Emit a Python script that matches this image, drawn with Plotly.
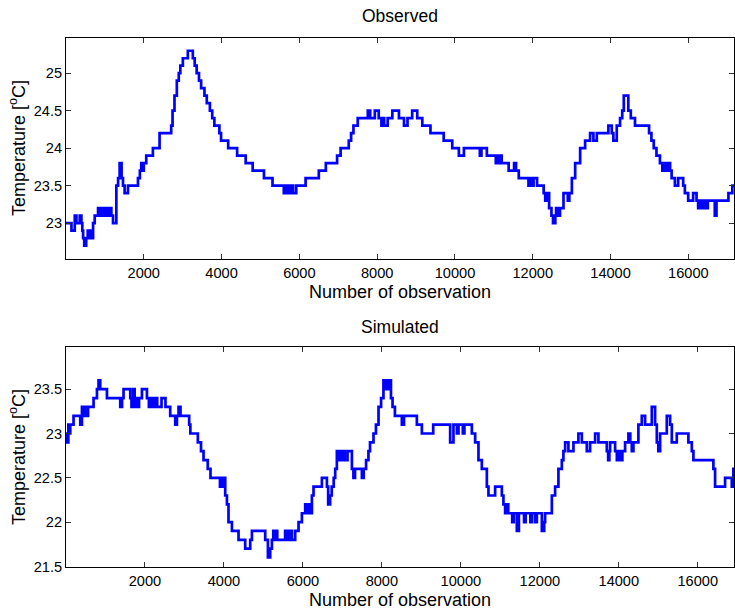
import plotly.graph_objects as go

# ---------------- data (step breakpoints) ----------------
obs_x = [1, 141, 226, 269, 354, 397, 420, 441, 470, 520, 560, 590, 630, 660, 697, 739, 825, 860, 900, 940,
         980, 1020, 1060, 1100, 1140, 1167, 1210, 1295, 1340, 1380, 1430, 1466, 1508, 1594, 1851, 1900,
         1936, 1970, 2000, 2064, 2235, 2406, 2705, 2740, 2790, 2850, 2900, 2940, 3005, 3133, 3261, 3310,
         3360, 3420, 3474, 3560, 3620, 3700, 3760, 3815, 3944, 3987, 4170, 4400, 4620, 4800, 5090, 5310,
         5600, 5640, 5680, 5720, 5760, 5800, 5840, 5920, 6160, 6500, 6680, 6970, 7060, 7270, 7330, 7390,
         7500, 7760, 7820, 7940, 8040, 8110, 8150, 8180, 8270, 8390, 8560, 8690, 8780, 8900, 9030, 9160,
         9370, 9710, 9930, 10100, 10230, 10640, 10680, 10820, 11050, 11080, 11100, 11150, 11200, 11380,
         11520, 11570, 11640, 11890, 11950, 12000, 12020, 12110, 12280, 12320, 12380, 12420, 12480, 12520,
         12580, 12600, 12640, 12700, 12790, 12900, 12940, 13005, 13090, 13218, 13346, 13474, 13559, 13646,
         13944, 14030, 14072, 14159, 14244, 14300, 14340, 14456, 14520, 14628, 14990, 15050, 15110, 15180,
         15269, 15330, 15380, 15430, 15480, 15530, 15569, 15654, 15738, 15867, 15910, 15995, 16123, 16210,
         16251, 16290, 16340, 16380, 16450, 16500, 16679, 16723, 17030, 17130, 17173]
obs_y = [23.0, 22.9, 23.1, 23.0, 23.1, 23.0, 22.9, 22.8, 22.7, 22.8, 22.9, 22.8, 22.9, 22.8, 23.0, 23.1, 23.2, 23.1, 23.2, 23.1,
         23.2, 23.1, 23.2, 23.1, 23.2, 23.1, 23.0, 23.5, 23.6, 23.8, 23.6, 23.5, 23.4, 23.5, 23.6, 23.7,
         23.8, 23.7, 23.8, 23.9, 24.0, 24.2, 24.3, 24.5, 24.7, 24.9, 25.0, 25.1, 25.2, 25.3, 25.2, 25.1,
         25.0, 24.9, 24.8, 24.7, 24.6, 24.5, 24.4, 24.3, 24.2, 24.1, 24.0, 23.9, 23.8, 23.7, 23.6, 23.5,
         23.4, 23.5, 23.4, 23.5, 23.4, 23.5, 23.4, 23.5, 23.6, 23.7, 23.8, 23.9, 24.0, 24.1, 24.2, 24.3,
         24.4, 24.5, 24.4, 24.5, 24.4, 24.3, 24.4, 24.3, 24.4, 24.5, 24.4, 24.3, 24.4, 24.5, 24.4, 24.3,
         24.2, 24.1, 24.0, 23.9, 24.0, 23.9, 24.0, 23.9, 23.8, 23.9, 23.8, 23.9, 23.8, 23.7,
         23.8, 23.7, 23.6, 23.5, 23.6, 23.5, 23.6, 23.5, 23.4, 23.3, 23.4, 23.2, 23.1, 23.0,
         23.1, 23.2, 23.1, 23.2, 23.4, 23.3, 23.4, 23.6, 23.8, 24.0, 24.1, 24.2, 24.1, 24.2,
         24.3, 24.2, 24.1, 24.3, 24.4, 24.5, 24.7, 24.5, 24.4, 24.3, 24.2, 24.1, 24.0, 23.9,
         23.8, 23.7, 23.8, 23.7, 23.8, 23.7, 23.6, 23.5, 23.6, 23.5, 23.4, 23.3, 23.4, 23.3,
         23.2, 23.3, 23.2, 23.3, 23.2, 23.3, 23.1, 23.3, 23.4, 23.5, 23.5]

sim_x = [1, 30, 60, 80, 109, 192, 362, 405, 440, 480, 520, 560, 699, 785, 825, 868, 1038, 1375, 1420, 1458,
         1628, 1660, 1700, 1740, 1780, 1810, 1850, 1924, 2051, 2100, 2130, 2170, 2200, 2240, 2280, 2310,
         2420, 2520, 2640, 2767, 2810, 2851, 2900, 3120, 3150, 3340, 3420, 3484, 3590, 3660, 3900, 3920,
         3950, 3990, 4033, 4076, 4116, 4203, 4370, 4539, 4666, 4709, 5046, 5114, 5172, 5215, 5250, 5290,
         5320, 5350, 5550, 5580, 5610, 5640, 5680, 5722, 5805, 5890, 5975, 6058, 6100, 6140, 6185, 6228,
         6269, 6481, 6608, 6640, 6690, 6730, 6780, 6818, 6860, 6900, 6940, 6980, 7020, 7060, 7130, 7241,
         7280, 7320, 7494, 7540, 7600, 7660, 7700, 7788, 7850, 7915, 7980, 8040, 8100, 8167, 8230, 8270,
         8330, 8506, 8560, 8886, 9013, 9300, 9729, 9813, 9900, 9940, 10050, 10090, 10278, 10362, 10446,
         10531, 10658, 10699, 10868, 11038, 11078, 11121, 11160, 11200, 11300, 11340, 11418, 11470, 11600,
         11640, 11760, 11800, 11880, 11924, 12051, 12110, 12134, 12304, 12387, 12471, 12557, 12597, 12641,
         12724, 12851, 12977, 13063, 13190, 13273, 13400, 13484, 13696, 13730, 13760, 13780, 13906, 13950,
         14000, 14050, 14090, 14159, 14243, 14290, 14329, 14370, 14496, 14582, 14666, 14835, 14919, 14962,
         15000, 15046, 15215, 15299, 15342, 15468, 15762, 15848, 15889, 16395, 16438, 16691, 16861, 16901,
         16917]
sim_y = [23.0, 22.9, 23.1, 23.0, 23.1, 23.2, 23.1, 23.3, 23.2, 23.3, 23.2, 23.3, 23.4, 23.5, 23.6, 23.5, 23.4, 23.3, 23.4, 23.5,
         23.4, 23.3, 23.5, 23.3, 23.4, 23.3, 23.4, 23.5, 23.4, 23.3, 23.4, 23.3, 23.4, 23.3, 23.4, 23.3,
         23.4, 23.3, 23.2, 23.1, 23.2, 23.3, 23.2, 23.1, 23.0, 22.9, 22.8, 22.7, 22.6, 22.5, 22.4, 22.5,
         22.4, 22.5, 22.3, 22.2, 22.0, 21.9, 21.8, 21.7, 21.8, 21.9, 21.8, 21.6, 21.7, 21.8, 21.9, 21.8,
         21.9, 21.8, 21.9, 21.8, 21.9, 21.8, 21.9, 21.8, 21.9, 22.0, 22.1, 22.2, 22.1, 22.2, 22.1, 22.3,
         22.4, 22.5, 22.4, 22.2, 22.3, 22.4, 22.5, 22.6, 22.8, 22.7, 22.8, 22.7, 22.8, 22.7, 22.8, 22.6,
         22.5, 22.6, 22.5, 22.6, 22.7, 22.8, 22.9, 23.0, 23.1, 23.3, 23.4, 23.6, 23.5, 23.6, 23.4, 23.3,
         23.2, 23.1, 23.2, 23.1, 23.0, 23.1, 22.9, 23.1, 23.0, 23.1, 23.0, 23.1, 23.0, 22.9, 22.7,
         22.6, 22.4, 22.3, 22.4, 22.3, 22.2, 22.1, 22.2, 22.1, 22.0, 22.1, 21.9, 22.1, 22.0,
         22.1, 22.0, 22.1, 22.0, 22.1, 21.9, 22.0, 22.1, 22.3, 22.4, 22.6, 22.7, 22.8, 22.9,
         22.8, 22.9, 23.0, 22.9, 22.8, 22.9, 23.0, 22.9, 22.8, 22.7, 22.8, 22.9, 22.8, 22.7,
         22.8, 22.7, 22.8, 22.9, 23.0, 22.9, 22.8, 22.9, 23.1, 23.2, 23.1, 23.3, 23.1, 22.9,
         22.8, 23.0, 23.2, 23.1, 22.9, 23.0, 22.9, 22.8, 22.7, 22.6, 22.4, 22.5, 22.4, 22.6,
         22.6]

x_ticks = [2000, 4000, 6000, 8000, 10000, 12000, 14000, 16000]
x_ticklabels = ["2000", "4000", "6000", "8000", "10000", "12000", "14000", "16000"]
obs_yticks = [23, 23.5, 24, 24.5, 25]
obs_yticklabels = ["23", "23.5", "24", "24.5", "25"]
sim_yticks = [21.5, 22, 22.5, 23, 23.5]
sim_yticklabels = ["21.5", "22", "22.5", "23", "23.5"]

# ---------------- figure ----------------
FONT = "Liberation Sans, Arial, Helvetica, sans-serif"
W, H = 735, 611
ML, MR, MT, MB = 66, 1, 38, 44
top_dom = [0.5822, 1.0]
bot_dom = [0.0, 0.416]

fig = go.Figure()
line = dict(color="#0000ff", width=2.7, shape="hv")
fig.add_trace(go.Scatter(x=obs_x, y=obs_y, mode="lines", line=line, xaxis="x", yaxis="y", showlegend=False))
fig.add_trace(go.Scatter(x=sim_x, y=sim_y, mode="lines", line=line, xaxis="x2", yaxis="y2", showlegend=False))

ax_common = dict(showline=True, linecolor="black", linewidth=1, mirror="ticks", ticks="inside",
                 ticklen=5, tickcolor="#333333", tickwidth=1, showgrid=False, zeroline=False,
                 tickfont=dict(family=FONT, size=14.6, color="black"))

fig.update_layout(
    width=W, height=H, margin=dict(l=ML, r=MR, t=MT, b=MB),
    paper_bgcolor="white", plot_bgcolor="white",
    xaxis=dict(domain=[0, 1], range=[1, 17173], tickvals=x_ticks, ticktext=x_ticklabels, anchor="y", **ax_common),
    yaxis=dict(domain=top_dom, range=[22.52, 25.47], tickvals=obs_yticks, ticktext=obs_yticklabels, anchor="x", **ax_common),
    xaxis2=dict(domain=[0, 1], range=[1, 16917], tickvals=x_ticks, ticktext=x_ticklabels, anchor="y2", **ax_common),
    yaxis2=dict(domain=bot_dom, range=[21.493, 23.977], tickvals=sim_yticks, ticktext=sim_yticklabels, anchor="x2", **ax_common),
)

# texts
ann = []
def txt(s, x, y, size, angle=0):
    ann.append(dict(text=s, xref="paper", yref="paper", x=x, y=y, showarrow=False,
                    font=dict(family=FONT, size=size, color="black"), textangle=angle,
                    xanchor="center", yanchor="middle"))

plot_h = H - MT - MB
def py(pix):  # pixel row -> paper y
    return (H - MB - pix) / plot_h
def px(pix):
    return (pix - ML) / (W - ML - MR)

txt("Observed", 0.5, py(16), 17.5)
txt("Simulated", 0.5, py(327), 17.5)
txt("Number of observation", 0.5, py(292), 18)
txt("Number of observation", 0.5, py(600), 18)
txt("Temperature [<sup>o</sup>C]", px(17), py(148), 18, -90)
txt("Temperature [<sup>o</sup>C]", px(17), py(457), 18, -90)
fig.update_layout(annotations=ann)

fig.write_html("out.html")
